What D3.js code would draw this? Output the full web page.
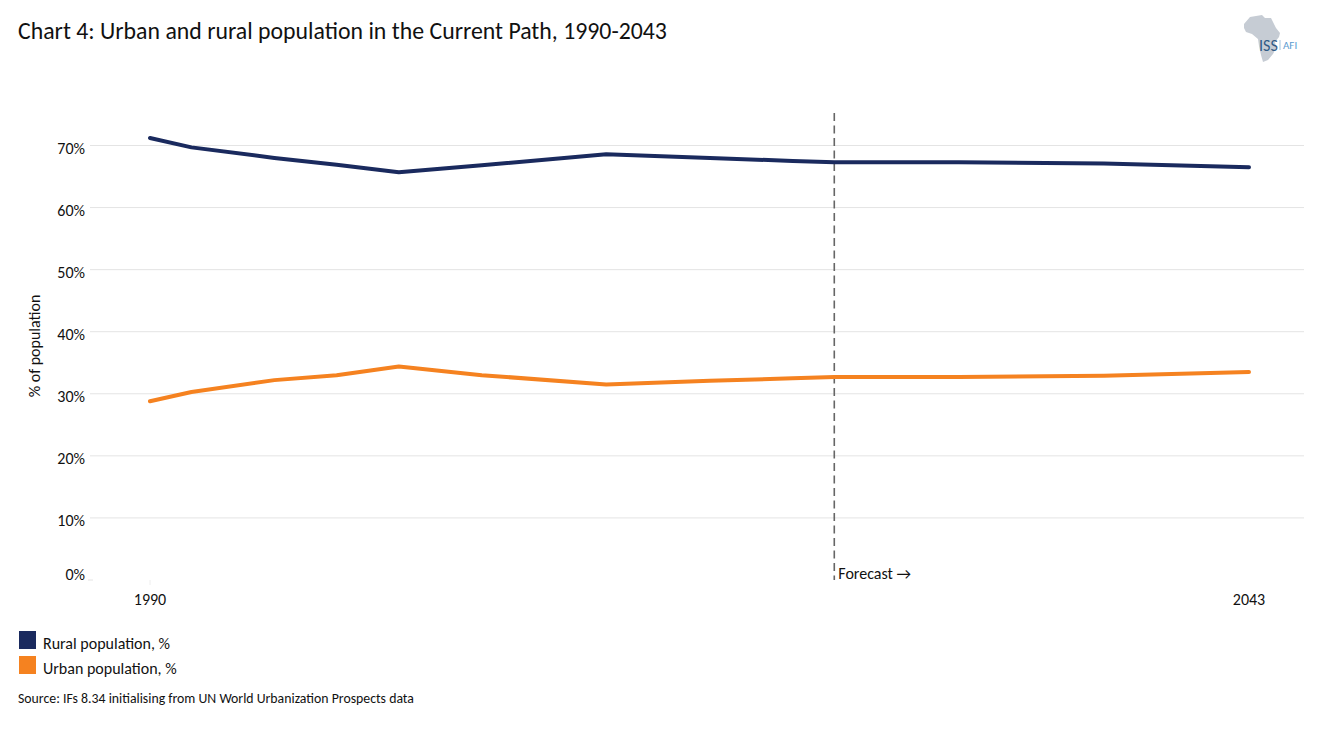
<!DOCTYPE html>
<html><head><meta charset="utf-8">
<script src="https://cdn.jsdelivr.net/npm/d3@7"></script>
<style>html,body{margin:0;padding:0;background:#fff}svg{display:block}text{font-family:Carlito,Calibri,Lato,"Open Sans",sans-serif;fill:#111}</style>
</head><body><div id="c"></div>
<script>
const title="Chart 4: Urban and rural population in the Current Path, 1990-2043";
const yTicks=[0,10,20,30,40,50,60,70];
const xTickYears=[1990,2043];
const forecastYear=2023;
const years=[1990,1992,1996,1999,2002,2006,2012,2017,2021,2023,2029,2036,2043];
const ruralValues=[71.2,69.7,68.0,66.9,65.7,66.8,68.6,68.0,67.5,67.3,67.3,67.1,66.5];
const urbanValues=[28.8,30.3,32.2,33.0,34.4,33.0,31.5,32.1,32.5,32.7,32.7,32.9,33.5];
const legendLabels=["Rural population, %","Urban population, %"];
const colors=["#1a2a5e","#f58220"];
const source="Source: IFs 8.34 initialising from UN World Urbanization Prospects data";

const svg=d3.select("#c").append("svg").attr("width",1318).attr("height",729);
const x=d3.scaleLinear().domain([1990,2043]).range([150,1249]);
const y=d3.scaleLinear().domain([0,70]).range([580,145.5]);

svg.append("text").attr("x",18).attr("y",39).attr("font-size",23.8).text(title);

svg.append("g").selectAll("line").data(yTicks).join("line")
 .attr("x1",d=>d===0?88:90).attr("x2",d=>d===0?93:1304)
 .attr("y1",d=>y(d)).attr("y2",d=>y(d))
 .attr("stroke","#e4e4e4").attr("stroke-width",1);
svg.append("g").selectAll("text").data(yTicks).join("text")
 .attr("x",85).attr("y",d=>d===0?580:y(d)+8).attr("text-anchor","end").attr("font-size",16).text(d=>d+"%");
svg.append("text").attr("transform","translate(40,346) rotate(-90)").attr("text-anchor","middle").attr("font-size",16).text("% of population");

svg.append("g").selectAll("text").data(xTickYears).join("text")
 .attr("x",d=>x(d)).attr("y",605).attr("text-anchor","middle").attr("font-size",16).text(d=>d);
svg.append("line").attr("x1",x(1990)).attr("x2",x(1990)).attr("y1",580).attr("y2",585).attr("stroke","#eee");

svg.append("line").attr("x1",x(forecastYear)).attr("x2",x(forecastYear)).attr("y1",113).attr("y2",580)
 .attr("stroke","#666").attr("stroke-width",1.6).attr("stroke-dasharray","8,4.5");
svg.append("text").attr("x",x(forecastYear)+4).attr("y",579).attr("font-size",16).text("Forecast →");

const line=d3.line().x(d=>x(d[0])).y(d=>y(d[1]));
[ruralValues,urbanValues].forEach((s,i)=>{
 svg.append("path").attr("d",line(d3.zip(years,s))).attr("fill","none").attr("stroke",colors[i]).attr("stroke-width",4).attr("stroke-linecap","round").attr("stroke-linejoin","round");
});

legendLabels.forEach((l,i)=>{
 svg.append("rect").attr("x",19).attr("y",631+i*25).attr("width",17).attr("height",18).attr("fill",colors[i]);
 svg.append("text").attr("x",43).attr("y",649+i*25).attr("font-size",16).text(l);
});
svg.append("text").attr("x",18).attr("y",703).attr("font-size",13.8).text(source);

const africa=[[1244,24],[1250,17],[1256,16],[1262,15],[1265,18],[1271,18],[1273,22],[1276,28],[1280,33],[1279,37],[1275,42],[1276,48],[1273,54],[1268,60],[1263,62],[1261,55],[1259,46],[1258,39],[1252,34],[1246,32],[1244,28]];
svg.append("path").attr("d",d3.line()(africa)+"Z").attr("fill","#c6ccd4");
svg.append("text").attr("x",1259).attr("y",51).attr("font-size",16).style("fill","#2f5a85").text("ISS");
svg.append("text").attr("x",1283).attr("y",49).attr("font-size",11).style("fill","#5b9bd0").text("AFI");
svg.append("line").attr("x1",1280).attr("x2",1280).attr("y1",40).attr("y2",50).attr("stroke","#9fc4e0");
</script></body></html>
